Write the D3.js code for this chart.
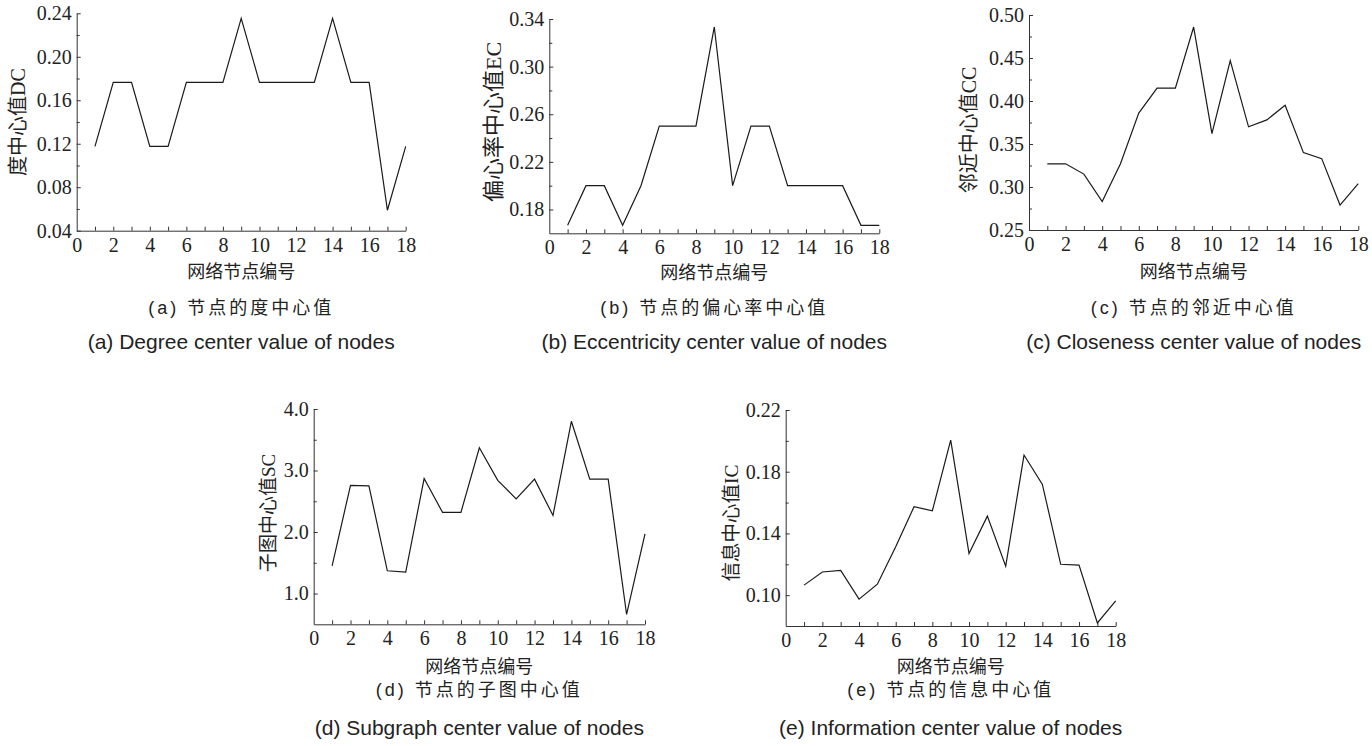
<!DOCTYPE html>
<html>
<head>
<meta charset="utf-8">
<script src="https://cdn.jsdelivr.net/npm/d3@7"></script>
<style>
  body { margin: 0; background: #fff; }
  svg { display: block; }
  .tick text { font-family: "Liberation Serif", "Times New Roman", serif; fill: #222; }
  .domain, .tick line { stroke: #333; }
</style>
</head>
<body>
<div id="chart"></div>
<script>
// node ids on the x axis
const nodeIds = [1, 2, 3, 4, 5, 6, 7, 8, 9, 10, 11, 12, 13, 14, 15, 16, 17, 18];
const xTickLabels = [0, 2, 4, 6, 8, 10, 12, 14, 16, 18];

// centrality values
const degreeValues = [0.1176, 0.1765, 0.1765, 0.1176, 0.1176, 0.1765, 0.1765, 0.1765, 0.2353,
                      0.1765, 0.1765, 0.1765, 0.1765, 0.2353, 0.1765, 0.1765, 0.0588, 0.1176];
const eccentricityValues = [0.1667, 0.2, 0.2, 0.1667, 0.2, 0.25, 0.25, 0.25, 0.3333,
                            0.2, 0.25, 0.25, 0.2, 0.2, 0.2, 0.2, 0.1667, 0.1667];
const closenessValues = [0.327, 0.327, 0.315, 0.283, 0.327, 0.386, 0.415, 0.415, 0.486,
                         0.362, 0.447, 0.370, 0.378, 0.395, 0.340, 0.333, 0.279, 0.304];
const subgraphValues = [1.45, 2.76, 2.75, 1.37, 1.35, 2.87, 2.32, 2.32, 3.37,
                        2.84, 2.54, 2.86, 2.27, 3.80, 2.86, 2.86, 0.66, 1.97];
const informationValues = [0.1065, 0.115, 0.116, 0.0974, 0.1071, 0.1313, 0.1573, 0.1547, 0.2005,
                           0.127, 0.1512, 0.1188, 0.1908, 0.1718, 0.120, 0.1195, 0.082, 0.0963];

// y tick labels per panel
const degreeTicks = [0.04, 0.08, 0.12, 0.16, 0.20, 0.24];
const degreeMinor = [0.06, 0.10, 0.14, 0.18, 0.22];
const eccTicks = [0.18, 0.22, 0.26, 0.30, 0.34];
const eccMinor = [0.20, 0.24, 0.28, 0.32];
const closeTicks = [0.25, 0.30, 0.35, 0.40, 0.45, 0.50];
const closeMinor = [0.275, 0.325, 0.375, 0.425, 0.475];
const subTicks = [1.0, 2.0, 3.0, 4.0];
const subMinor = [1.5, 2.5, 3.5];
const infoTicks = [0.10, 0.14, 0.18, 0.22];
const infoMinor = [0.12, 0.16, 0.20];

const W = 1372, H = 746;

const svg = d3.select('#chart').append('svg')
  .attr('width', W).attr('height', H);

const panels = [
  {
    values: degreeValues, yDomain: [0.04, 0.24], yTicks: degreeTicks, yMinor: degreeMinor, fmt: '.2f',
    x0: 76.7, x1: 405.7, y0: 230.7, y1: 13.3,
    yTitle: '度中心值DC', yTitleX: 18, yTitleY: 122, yTitleSize: 20,
    xTitleY: 278, cn: '(a) 节点的度中心值', en: '(a) Degree center value of nodes', cnY: 314, enY: 349
  },
  {
    values: eccentricityValues, yDomain: [0.16, 0.34], yTicks: eccTicks, yMinor: eccMinor, fmt: '.2f',
    x0: 549.3, x1: 879.3, y0: 233.3, y1: 19,
    yTitle: '偏心率中心值EC', yTitleX: 493, yTitleY: 122, yTitleSize: 22,
    xTitleY: 279, cn: '(b) 节点的偏心率中心值', en: '(b) Eccentricity center value of nodes', cnY: 314, enY: 349
  },
  {
    values: closenessValues, yDomain: [0.25, 0.50], yTicks: closeTicks, yMinor: closeMinor, fmt: '.2f',
    x0: 1029, x1: 1358.3, y0: 230, y1: 15,
    yTitle: '邻近中心值CC', yTitleX: 969, yTitleY: 130, yTitleSize: 20,
    xTitleY: 278, cn: '(c) 节点的邻近中心值', en: '(c) Closeness center value of nodes', cnY: 314, enY: 349
  },
  {
    values: subgraphValues, yDomain: [0.5, 4.0], yTicks: subTicks, yMinor: subMinor, fmt: '.1f',
    x0: 313.7, x1: 645, y0: 624.3, y1: 409,
    yTitle: '子图中心值SC', yTitleX: 268, yTitleY: 513, yTitleSize: 19,
    xTitleY: 673, cn: '(d) 节点的子图中心值', en: '(d) Subgraph center value of nodes', cnY: 696, enY: 735
  },
  {
    values: informationValues, yDomain: [0.08, 0.22], yTicks: infoTicks, yMinor: infoMinor, fmt: '.2f',
    x0: 785.7, x1: 1115.7, y0: 626, y1: 410,
    yTitle: '信息中心值IC', yTitleX: 731, yTitleY: 523, yTitleSize: 19.5,
    xTitleY: 673, cn: '(e) 节点的信息中心值', en: '(e) Information center value of nodes', cnY: 696, enY: 735
  }
];

panels.forEach(function (p) {
  const x = d3.scaleLinear().domain([0, 18]).range([p.x0, p.x1]);
  const y = d3.scaleLinear().domain(p.yDomain).range([p.y0, p.y1]);
  const cx = (p.x0 + p.x1) / 2;

  const g = svg.append('g');

  // x axis: marks on every node, labels on even ones
  g.append('g')
    .attr('transform', 'translate(0,' + p.y0 + ')')
    .call(d3.axisBottom(x).tickValues(nodeIds).tickSize(-4).tickSizeOuter(0).tickFormat(''))
    .call(s => s.select('.domain').remove());
  g.append('g')
    .attr('transform', 'translate(0,' + p.y0 + ')')
    .call(d3.axisBottom(x).tickValues(xTickLabels).tickSize(0).tickSizeOuter(0).tickPadding(7))
    .call(s => s.selectAll('text').attr('font-size', 20));

  // y axis
  g.append('g')
    .attr('transform', 'translate(' + p.x0 + ',0)')
    .call(d3.axisLeft(y).tickValues(p.yMinor).tickSize(-3).tickSizeOuter(0).tickFormat(''))
    .call(s => s.select('.domain').remove());
  g.append('g')
    .attr('transform', 'translate(' + p.x0 + ',0)')
    .call(d3.axisLeft(y).tickValues(p.yTicks).tickSize(-4).tickSizeOuter(0).tickPadding(5)
      .tickFormat(d3.format(p.fmt)))
    .call(s => s.selectAll('text').attr('font-size', 20));

  // data line
  const line = d3.line()
    .x((d, i) => x(nodeIds[i]))
    .y(d => y(d));
  g.append('path')
    .datum(p.values)
    .attr('d', line)
    .attr('fill', 'none')
    .attr('stroke', '#1a1a1a')
    .attr('stroke-width', 1.2);

  // axis titles
  g.append('text')
    .attr('x', cx).attr('y', p.xTitleY)
    .attr('text-anchor', 'middle')
    .attr('font-family', '"Noto Sans CJK SC", sans-serif')
    .attr('font-size', 18)
    .attr('fill', '#222')
    .text('网络节点编号');

  g.append('text')
    .attr('transform', 'translate(' + p.yTitleX + ',' + p.yTitleY + ') rotate(-90)')
    .attr('text-anchor', 'middle')
    .attr('dominant-baseline', 'central')
    .attr('font-family', '"Liberation Serif", "Noto Sans CJK SC", serif')
    .attr('font-size', p.yTitleSize)
    .attr('fill', '#222')
    .text(p.yTitle);

  // captions
  g.append('text')
    .attr('x', cx).attr('y', p.cnY)
    .attr('text-anchor', 'middle')
    .attr('font-family', '"Liberation Sans", "Noto Sans CJK SC", sans-serif')
    .attr('font-size', 18)
    .attr('letter-spacing', 3)
    .attr('fill', '#222')
    .text(p.cn);

  g.append('text')
    .attr('x', cx).attr('y', p.enY)
    .attr('text-anchor', 'middle')
    .attr('font-family', '"Liberation Sans", Arial, sans-serif')
    .attr('font-size', 21)
    .attr('fill', '#222')
    .text(p.en);
});
</script>
</body>
</html>
